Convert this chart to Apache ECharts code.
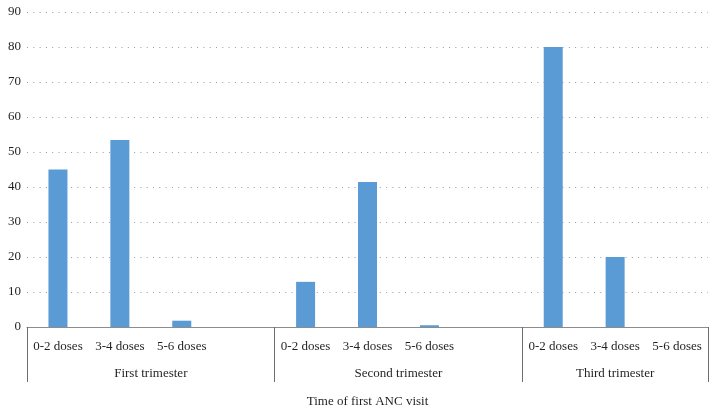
<!DOCTYPE html>
<html><head><meta charset="utf-8">
<script src="https://cdn.jsdelivr.net/npm/echarts@6/dist/echarts.min.js"></script>
<style>html,body{margin:0;padding:0;background:#fff}#c{width:716px;height:410px}</style>
</head><body><div id="c"></div>
<script>
const doseLabels = ["0-2 doses","3-4 doses","5-6 doses",""];
const groupNames = ["First trimester","Second trimester","Third trimester"];
const groupSizes = [4,4,3];
const groupValues = [
  [45, 53.4, 1.8, null],
  [12.9, 41.4, 0.5, null],
  [80, 20, 0]
];
const yTicks = {min:0, max:90, interval:10};
const xTitle = "Time of first ANC visit";

const categories = [];
const values = [];
const boundaries = [];
const groupCenters = [];
let pos = 0;
groupNames.forEach((g, gi) => {
  boundaries.push(pos);
  groupCenters.push(pos + groupSizes[gi] / 2);
  for (let k = 0; k < groupSizes[gi]; k++) {
    categories.push(doseLabels[k] + (k < 3 ? "" : "\u200b" + gi));
    values.push(groupValues[gi][k]);
  }
  pos += groupSizes[gi];
});
const total = pos;

const font = "'Liberation Serif', 'DejaVu Serif', serif";
const chart = echarts.init(document.getElementById('c'));
chart.setOption({
  animation: false,
  grid: {left: 27, right: 8, top: 12, bottom: 83, containLabel: false, outerBoundsMode: 'none'},
  xAxis: [{
    type: 'category',
    data: categories,
    axisLine: {lineStyle: {color: '#8c8c8c', width: 1}},
    axisTick: {show: true, length: 55, interval: (i) => boundaries.indexOf(i) >= 0,
      lineStyle: {color: '#6e6e6e', width: 1}},
    axisLabel: {interval: 0, margin: 13, color: '#231f20', fontFamily: font, fontSize: 13,
      formatter: (v) => v.indexOf("\u200b") >= 0 ? "" : v}
  }, {
    type: 'value', min: 0, max: total, interval: 0.5, position: 'bottom',
    axisLine: {show: false}, axisTick: {show: false}, splitLine: {show: false},
    axisLabel: {margin: 40, color: '#231f20', fontFamily: font, fontSize: 13,
      showMinLabel: true, showMaxLabel: true,
      formatter: (v) => { const i = groupCenters.indexOf(v); return i >= 0 ? groupNames[i] : ''; }},
    name: xTitle, nameLocation: 'middle', nameGap: 68,
    nameTextStyle: {color: '#231f20', fontFamily: font, fontSize: 13}
  }],
  yAxis: {
    type: 'value', min: yTicks.min, max: yTicks.max, interval: yTicks.interval,
    axisLine: {show: false}, axisTick: {show: false},
    axisLabel: {margin: 6, color: '#231f20', fontFamily: font, fontSize: 13},
    splitLine: {lineStyle: {color: '#9a9a9a', type: [1, 5.3], width: 1}}
  },
  series: [{
    type: 'bar', xAxisIndex: 0, data: values, barWidth: 19,
    itemStyle: {color: '#5b9bd5'}
  }]
});
</script></body></html>
